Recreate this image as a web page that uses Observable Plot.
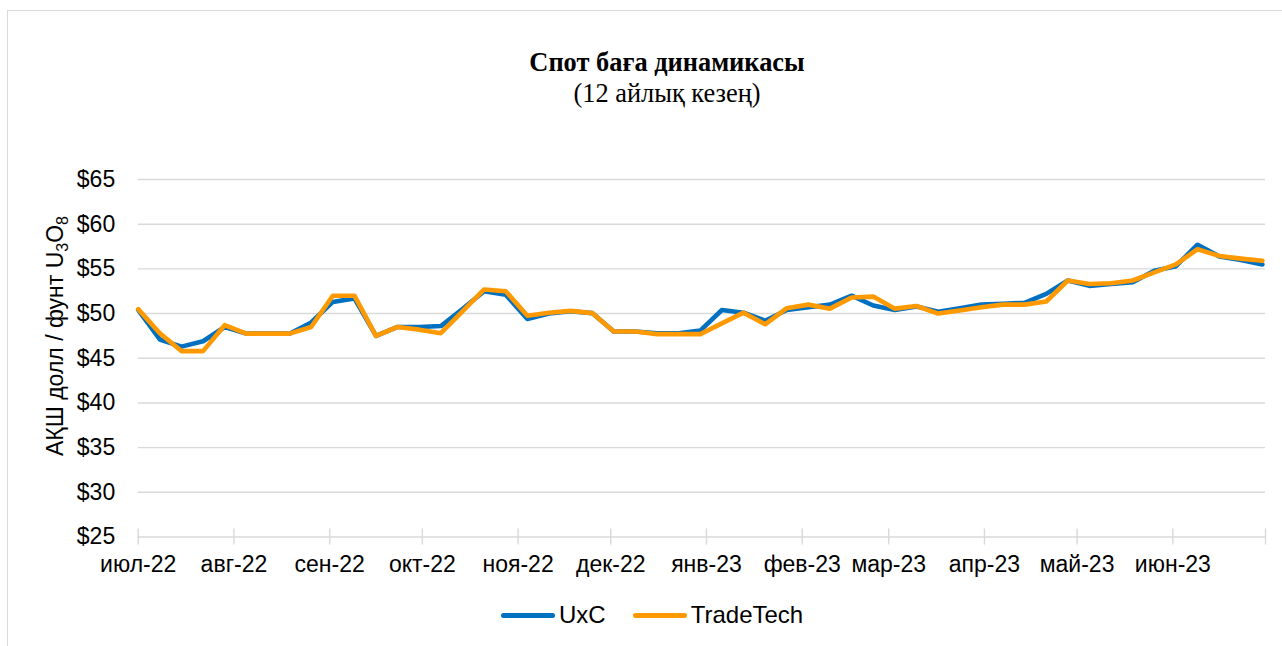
<!DOCTYPE html>
<html><head><meta charset="utf-8">
<script src="https://cdn.jsdelivr.net/npm/d3@7"></script>
<script src="https://cdn.jsdelivr.net/npm/@observablehq/plot@0.6"></script>
<style>
body{margin:0;background:#fff;}
#wrap{position:relative;width:1282px;height:646px;overflow:hidden;font-family:"Liberation Sans",Arial,sans-serif;color:#000;}
#frame{position:absolute;left:7px;top:10px;width:1300px;height:700px;border:1px solid #d9d9d9;box-sizing:border-box;}
#chart{position:absolute;left:0;top:0;}
#title{position:absolute;left:0;width:1334px;top:47px;text-align:center;font-family:"Liberation Serif","Times New Roman",serif;font-size:26.4px;line-height:31px;}
#title b{font-weight:bold;}
#ylab{position:absolute;left:55px;top:336px;transform:translate(-50%,-50%) rotate(-90deg);white-space:nowrap;font-size:23px;}
#ylab sub{font-size:16px;vertical-align:-5px;line-height:0;}
#legend{position:absolute;top:601px;left:501px;display:flex;align-items:center;font-size:24px;}
.sw{display:inline-block;width:54px;height:5px;border-radius:3px;margin-right:4px;}
</style>
</head><body>
<div id="wrap">
<div id="frame"></div>
<div id="chart"></div>
<div id="title"><b>Спот баға динамикасы</b><br>(12 айлық кезең)</div>
<div id="ylab">АҚШ долл / фунт U<sub>3</sub>O<sub>8</sub></div>
<div id="legend"><span class="sw" style="background:#0070C0"></span><span>UxC</span><span style="width:27px;display:inline-block"></span><span class="sw" style="background:#FF9900"></span><span>TradeTech</span></div>
</div>
<script>
const seriesNames = ["UxC", "TradeTech"];
const startDate = "2022-07-01";
const uxc = [50.4,47.1,46.3,46.9,48.5,47.75,47.75,47.75,49.0,51.3,51.7,47.5,48.5,48.5,48.6,50.5,52.5,52.1,49.4,50.0,50.25,50.05,48.0,48.0,47.8,47.8,48.1,50.4,50.1,49.2,50.4,50.7,51.0,52.0,50.9,50.4,50.8,50.2,50.6,51.0,51.1,51.2,52.2,53.7,53.1,53.3,53.5,54.8,55.3,57.7,56.4,56.0,55.5];
const tradeTech = [50.5,47.8,45.8,45.8,48.7,47.75,47.75,47.75,48.5,52.0,52.0,47.5,48.5,48.2,47.8,50.25,52.7,52.5,49.75,50.1,50.3,50.05,48.0,48.0,47.7,47.7,47.7,48.9,50.1,48.8,50.6,51.0,50.55,51.8,51.9,50.55,50.85,50.0,50.35,50.7,51.0,51.0,51.35,53.7,53.3,53.4,53.7,54.6,55.5,57.2,56.45,56.15,55.9];
const monthLabels = ["июл-22","авг-22","сен-22","окт-22","ноя-22","дек-22","янв-23","фев-23","мар-23","апр-23","май-23","июн-23",""];
const yTicks = [25,30,35,40,45,50,55,60,65];
const colors = ["#0070C0", "#FF9900"];

const t0 = new Date(startDate + "T00:00:00");
const dates = uxc.map((_, i) => d3.timeDay.offset(t0, 7 * i));
const rows = [];
[uxc, tradeTech].forEach((vals, s) => vals.forEach((v, i) => rows.push({date: dates[i], value: v, series: seriesNames[s]})));
const monthTicks = d3.timeMonth.range(t0, d3.timeMonth.offset(t0, 13));
const xDomain = [monthTicks[0], monthTicks[monthTicks.length - 1]];

const plot = Plot.plot({
  width: 1282,
  height: 646,
  marginLeft: 137.7,
  marginRight: 17,
  marginTop: 179,
  marginBottom: 109.5,
  style: {fontFamily: "'Liberation Sans', Arial, sans-serif", fontSize: "23px", color: "#000", background: "transparent"},
  x: {type: "time", domain: xDomain, label: null},
  y: {domain: [25, 65], label: null},
  color: {domain: seriesNames, range: colors},
  marks: [
    Plot.gridY(yTicks.slice(1), {stroke: "#d9d9d9", strokeOpacity: 1, strokeWidth: 1.4}),
    Plot.ruleY([25], {stroke: "#d9d9d9", strokeWidth: 1.4}),
    Plot.ruleX(monthTicks, {y1: 24.1, y2: 25.9, stroke: "#d9d9d9", strokeWidth: 1.4}),
    Plot.axisY(yTicks, {tickSize: 0, tickPadding: 23, tickFormat: d => "$" + d, fill: "#000", label: null}),
    Plot.axisX(monthTicks, {tickSize: 0, tickPadding: 19, tickFormat: (d, i) => monthLabels[i], fill: "#000", label: null}),
    Plot.line(rows, {x: "date", y: "value", z: "series", stroke: "series", strokeWidth: 4.6, strokeLinejoin: "round", strokeLinecap: "round"})
  ]
});
document.getElementById("chart").appendChild(plot);
</script>
</body></html>
